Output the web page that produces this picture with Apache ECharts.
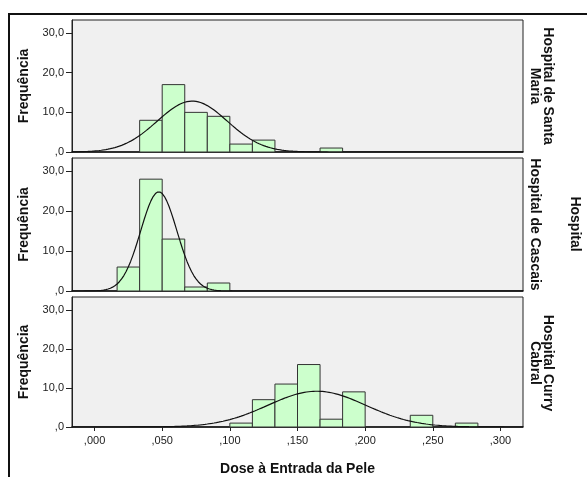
<!DOCTYPE html>
<html>
<head>
<meta charset="utf-8">
<script src="https://cdn.jsdelivr.net/npm/echarts@6/dist/echarts.min.js"></script>
<style>
  html, body { margin: 0; padding: 0; background: #fff; }
  #chart { width: 587px; height: 477px; }
</style>
</head>
<body>
<div id="chart"></div>
<script>
// histogram bins are 1/60 wide, bin k covers [k/60, (k+1)/60]
const binWidth = 1 / 60
const panelNames = ['Hospital de Santa\nMaria', 'Hospital de Cascais', 'Hospital Curry\nCabral']
const santaMariaCounts = [0, 0, 8, 17, 10, 9, 2, 3, 0, 0, 1]
const cascaisCounts = [0, 6, 28, 13, 1, 2]
const curryCabralCounts = [0, 0, 0, 0, 0, 0, 1, 7, 11, 16, 2, 9, 0, 0, 3, 0, 1]
// normal curve parameters (mean, std dev, N) per hospital
const means = [0.0722, 0.0475, 0.1643]
const stdDevs = [0.0259, 0.0134, 0.0363]
const sampleSizes = [50, 50, 50]
const xTicks = [0, 0.05, 0.1, 0.15, 0.2, 0.25, 0.3]
const yTicks = [0, 10, 20, 30]

const allCounts = [santaMariaCounts, cascaisCounts, curryCabralCounts]
const font = 'Arial, "Liberation Sans", Helvetica, sans-serif'
const xMin = -1 / 60, xMax = 19 / 60

const grids = [
    { left: 72, top: 20, width: 451, height: 132 },
    { left: 72, top: 158, width: 451, height: 133 },
    { left: 72, top: 297, width: 451, height: 132 }
]

function normalCurve(i) {
    const pts = []
    const steps = 200
    for (let s = 0; s <= steps; s++) {
        const x = xMin + (xMax - xMin) * s / steps
        const z = (x - means[i]) / stdDevs[i]
        const y = sampleSizes[i] * binWidth * Math.exp(-0.5 * z * z) / (stdDevs[i] * Math.sqrt(2 * Math.PI))
        pts.push([x, y])
    }
    return pts
}

const xAxes = [], yAxes = [], series = [], graphics = []

grids.forEach((g, i) => {
    g.show = true
    g.backgroundColor = '#f0f0f0'
    g.borderColor = '#222'
    g.borderWidth = 1
    const last = i === grids.length - 1
    xAxes.push({
        type: 'value', gridIndex: i, min: xMin, max: xMax,
        axisLine: { show: true, onZero: false, lineStyle: { color: '#111', width: 1.5 } },
        splitLine: { show: false },
        axisTick: { show: last, customValues: xTicks, length: 4, lineStyle: { color: '#222' } },
        axisLabel: {
            show: last, customValues: xTicks, margin: 8, color: '#1a1a1a', fontSize: 11, fontFamily: font,
            formatter: v => v.toFixed(3).replace('0.', ',')
        },
        name: last ? 'Dose à Entrada da Pele' : '',
        nameLocation: 'middle', nameGap: 35,
        nameTextStyle: { fontWeight: 'bold', fontSize: 14, color: '#111', fontFamily: font }
    })
    yAxes.push({
        type: 'value', gridIndex: i, min: 0, max: 33.3,
        axisLine: { show: true, onZero: false, lineStyle: { color: '#222' } },
        splitLine: { show: false },
        axisTick: { show: true, customValues: yTicks, length: 6, lineStyle: { color: '#222' } },
        axisLabel: {
            customValues: yTicks, margin: 8, color: '#1a1a1a', fontSize: 11, fontFamily: font,
            formatter: v => v === 0 ? ',0' : v.toFixed(1).replace('.', ',')
        },
        name: 'Frequência', nameLocation: 'middle', nameGap: 41,
        nameTextStyle: { fontWeight: 'bold', fontSize: 14, color: '#111', fontFamily: font }
    })

    const barData = []
    allCounts[i].forEach((c, k) => {
        if (c > 0) barData.push([k * binWidth, (k + 1) * binWidth, c])
    })
    series.push({
        type: 'custom', xAxisIndex: i, yAxisIndex: i,
        data: barData,
        encode: { x: [0, 1], y: 2 },
        renderItem: function (params, api) {
            const p0 = api.coord([api.value(0), 0])
            const p1 = api.coord([api.value(1), api.value(2)])
            return {
                type: 'rect',
                shape: { x: p0[0], y: p1[1], width: p1[0] - p0[0], height: p0[1] - p1[1] },
                style: { fill: '#ccffcc', stroke: '#333', lineWidth: 1 }
            }
        }
    })
    series.push({
        type: 'line', xAxisIndex: i, yAxisIndex: i,
        data: normalCurve(i), showSymbol: false, smooth: false,
        lineStyle: { color: '#111', width: 1.2 }, silent: true, z: 3
    })

    const oneLine = panelNames[i].indexOf('\n') < 0
    graphics.push({
        type: 'text',
        x: oneLine ? 535 : 541.5,
        y: g.top + g.height / 2,
        rotation: -Math.PI / 2,
        style: {
            text: panelNames[i], align: 'center', verticalAlign: 'middle',
            font: 'bold 14px ' + font, fill: '#111', lineHeight: 13
        }
    })
})

graphics.push({
    type: 'text', x: 575, y: 224, rotation: -Math.PI / 2,
    style: { text: 'Hospital', align: 'center', verticalAlign: 'middle', font: 'bold 14px ' + font, fill: '#111' }
})
graphics.push({
    type: 'rect', shape: { x: 9, y: 14, width: 620, height: 500 },
    style: { fill: 'none', stroke: '#111', lineWidth: 2 }
})

const chart = echarts.init(document.getElementById('chart'))
chart.setOption({
    animation: false,
    backgroundColor: '#fff',
    grid: grids,
    xAxis: xAxes,
    yAxis: yAxes,
    series: series,
    graphic: graphics
})
</script>
</body>
</html>
